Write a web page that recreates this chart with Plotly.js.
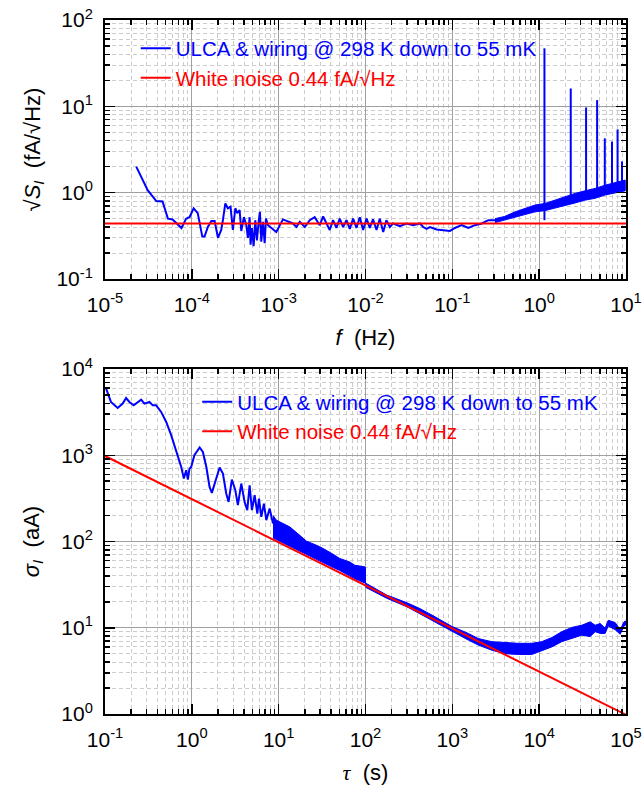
<!DOCTYPE html>
<html><head><meta charset="utf-8">
<script src="https://cdn.plot.ly/plotly-3.0.1.min.js"></script>
<style>body{margin:0;background:#fff}</style>
</head><body><div id="chart" style="width:644px;height:789px"></div>
<script>
// ---------- Top panel: spectral density ----------
const fLine = [2.29e-5,3.1e-5,3.9e-5,4.6e-5,5.3e-5,6.0e-5,7.6e-5,8.6e-5,9.4e-5,1.05e-4,1.17e-4,1.23e-4,1.32e-4,1.40e-4,1.53e-4,1.68e-4,1.83e-4,2.0e-4,2.18e-4,2.28e-4,2.43e-4,2.60e-4,2.79e-4,2.97e-4,3.17e-4,3.34e-4,3.55e-4,3.71e-4,3.98e-4,4.24e-4,4.42e-4,4.63e-4,4.75e-4,4.92e-4,5.15e-4,5.38e-4,5.62e-4,5.88e-4,6.08e-4,6.31e-4,6.59e-4,6.90e-4,7.14e-4,7.53e-4,8.24e-4,8.99e-4,9.4e-4,1.12e-3,1.28e-3,1.46e-3,1.60e-3,1.75e-3,2.0e-3,2.28e-3,2.60e-3,2.97e-3,3.25e-3,3.55e-3,3.87e-3,4.23e-3,4.62e-3,5.05e-3,5.52e-3,6.04e-3,6.59e-3,7.20e-3,7.87e-3,8.60e-3,9.38e-3,1.03e-2,1.12e-2,1.22e-2,1.34e-2,1.46e-2,1.60e-2,1.74e-2,1.91e-2,2.08e-2,2.49e-2,2.97e-2,3.54e-2,4.23e-2,4.62e-2,5.05e-2,5.52e-2,6.59e-2,7.5e-2,9.4e-2,0.107,0.128,0.153,0.182,0.218,0.26,0.31];
const sLine = [2.0,1.07,0.80,0.79,0.50,0.49,0.39,0.50,0.52,0.66,0.58,0.44,0.31,0.31,0.40,0.47,0.47,0.30,0.37,0.48,0.75,0.66,0.69,0.37,0.66,0.58,0.63,0.36,0.52,0.42,0.30,0.52,0.25,0.39,0.24,0.48,0.28,0.46,0.60,0.27,0.46,0.26,0.50,0.42,0.39,0.36,0.35,0.49,0.46,0.44,0.40,0.46,0.40,0.48,0.52,0.42,0.53,0.44,0.37,0.48,0.39,0.50,0.40,0.48,0.38,0.50,0.39,0.52,0.37,0.50,0.39,0.49,0.37,0.50,0.35,0.48,0.40,0.44,0.41,0.44,0.42,0.44,0.40,0.38,0.40,0.375,0.37,0.36,0.39,0.42,0.39,0.42,0.44,0.48,0.48];
const fBand = [0.31,0.40,0.53,0.69,0.90,1.17,1.52,1.99,2.59,3.38,4.41,5.74,7.5,9.8];
const sBandTop = [0.50,0.53,0.60,0.66,0.72,0.75,0.82,0.90,0.98,1.05,1.12,1.22,1.30,1.40];
const sBandBot = [0.45,0.48,0.52,0.56,0.60,0.62,0.66,0.71,0.76,0.82,0.86,0.94,1.00,1.05];
const fSpike = [1.15,2.31,3.47,4.65,5.7,6.9,8.0,9.0];
const sSpikeBase = [0.48,0.75,0.82,0.90,1.0,1.05,1.1,1.15];
const sSpikePeak = [47,16.1,9.7,11.8,4.26,3.9,5.4,2.3];
const fWhite = [1e-5,10];
const sWhite = [0.44,0.44];

// ---------- Bottom panel: Allan deviation ----------
const tauLine = [0.103,0.117,0.140,0.160,0.175,0.191,0.214,0.238,0.261,0.284,0.325,0.355,0.388,0.443,0.507,0.578,0.631,0.679,0.722,0.755,0.809,0.861,0.900,0.940,0.984,1.07,1.23,1.34,1.47,1.60,1.70,1.83,2.09,2.28,2.49,2.65,2.89,3.17,3.39,3.71,4.05,4.35,4.63,4.92,5.29,5.68,5.93,6.31,6.76,7.21,7.87,8.60];
const sigLine = [5930,4150,3530,3970,4610,4150,3790,4080,4420,3970,4150,3790,3790,3180,2430,1710,1310,1000,875,731,537,670,523,701,731,1000,1230,1090,731,430,366,470,720,614,360,288,523,393,264,470,288,231,449,231,344,211,315,193,275,177,241,162];
const tauBand1 = [8.6,9.4,11.2,13.4,17.5,20.9,27.2,32.5,42.3,50.6,65.9,75.3,98.2,100];
const sigBand1Top = [200,177,162,148,118,101,90.6,83,71.3,63.5,58,53.1,50.8,50];
const sigBand1Bot = [110,104,96,88,77,70,62,57,50,46,40,37,33,32.5];
const tauBand2 = [100,175,300,423,631,981,1525,1990,2840,4050,5760,8220,10700,14000,18200,23800,31000,38600,44100,50400,57500,62400,75000,85800,94800,100000];
const sigBand2Top = [33,24,19.5,16.7,13.4,10.4,8.6,7.5,6.9,6.7,6.6,6.6,6.9,7.7,9.0,10.1,10.7,11.7,10.7,11.2,9.9,12.2,11.5,9.5,11.7,12.0];
const sigBand2Bot = [29.5,22,17.5,14.7,11.7,9.2,7.2,6.3,5.5,5.0,4.9,4.9,5.4,6.0,6.9,7.5,8.2,7.9,9.0,8.6,8.6,10.5,9.5,8.4,10.5,10.8];
const tauWhite = [0.1,1e5];
const sigWhite = [980,0.98];

// ---------- Tick labels ----------
const fTickVals = [1e-5,1e-4,1e-3,1e-2,1e-1,1,10];
const fTickText = ['10<sup>-5</sup>','10<sup>-4</sup>','10<sup>-3</sup>','10<sup>-2</sup>','10<sup>-1</sup>','10<sup>0</sup>','10<sup>1</sup>'];
const sTickVals = [0.1,1,10,100];
const sTickText = ['10<sup>-1</sup>','10<sup>0</sup>','10<sup>1</sup>','10<sup>2</sup>'];
const tauTickVals = [0.1,1,10,100,1e3,1e4,1e5];
const tauTickText = ['10<sup>-1</sup>','10<sup>0</sup>','10<sup>1</sup>','10<sup>2</sup>','10<sup>3</sup>','10<sup>4</sup>','10<sup>5</sup>'];
const sigTickVals = [1,10,100,1e3,1e4];
const sigTickText = ['10<sup>0</sup>','10<sup>1</sup>','10<sup>2</sup>','10<sup>3</sup>','10<sup>4</sup>'];

const legBlue = '<span style="color:#0000ff">ULCA &amp; wiring @ 298 K down to 55 mK</span>';
const legRed = '<span style="color:#ff0000">White noise 0.44 fA/√Hz</span>';

const FONT = 'Liberation Sans, Arial, sans-serif';
const BLUE = '#0000ff', RED = '#ff0000';

function poly(x, top, bot) {
  return { x: x.concat(x.slice().reverse()), y: top.concat(bot.slice().reverse()) };
}
function spikes(f, base, peak) {
  const x = [], y = [];
  for (let i = 0; i < f.length; i++) { x.push(f[i], f[i], null); y.push(base[i], peak[i], null); }
  return { x, y };
}
function minors(lo, hi) {
  const v = [];
  for (let e = lo; e < hi; e++) for (let m = 2; m <= 9; m++) v.push(m * Math.pow(10, e));
  return v;
}
function axis(tv, tt, lo, hi, extra) {
  return Object.assign({
    type: 'log', range: [lo, hi], showline: true, linewidth: 2, linecolor: 'black', mirror: 'allticks',
    ticks: 'inside', ticklen: 10, tickwidth: 1.5, tickcolor: 'black',
    showgrid: true, gridcolor: '#a0a0a0', gridwidth: 1, zeroline: false,
    tickmode: 'array', tickvals: tv, ticktext: tt,
    tickfont: { family: FONT, size: 21, color: 'black' }, ticklabelstandoff: 6,
    minor: { tickvals: minors(lo, hi), ticks: 'inside', ticklen: 5, tickwidth: 1.5, tickcolor: 'black',
             showgrid: true, gridcolor: '#cccccc', griddash: '4px,3px', gridwidth: 1 }
  }, extra);
}

const bandTop = poly(fBand, sBandTop, sBandBot);
const sp = spikes(fSpike, sSpikeBase, sSpikePeak);
const band1 = poly(tauBand1, sigBand1Top, sigBand1Bot);
const band2 = poly(tauBand2, sigBand2Top, sigBand2Bot);

const data = [
  { x: fLine, y: sLine, type: 'scatter', mode: 'lines', line: { color: BLUE, width: 2 }, name: legBlue, legend: 'legend', legendrank: 1, xaxis: 'x', yaxis: 'y' },
  { x: bandTop.x, y: bandTop.y, type: 'scatter', mode: 'lines', fill: 'toself', fillcolor: BLUE, line: { color: BLUE, width: 1 }, showlegend: false, xaxis: 'x', yaxis: 'y' },
  { x: sp.x, y: sp.y, type: 'scatter', mode: 'lines', line: { color: BLUE, width: 2 }, connectgaps: false, showlegend: false, xaxis: 'x', yaxis: 'y' },
  { x: fWhite, y: sWhite, type: 'scatter', mode: 'lines', line: { color: RED, width: 2 }, name: legRed, legend: 'legend', legendrank: 2, xaxis: 'x', yaxis: 'y' },

  { x: tauLine, y: sigLine, type: 'scatter', mode: 'lines', line: { color: BLUE, width: 2 }, name: legBlue, legend: 'legend2', legendrank: 1, xaxis: 'x2', yaxis: 'y2' },
  { x: band1.x, y: band1.y, type: 'scatter', mode: 'lines', fill: 'toself', fillcolor: BLUE, line: { color: BLUE, width: 1 }, showlegend: false, xaxis: 'x2', yaxis: 'y2' },
  { x: band2.x, y: band2.y, type: 'scatter', mode: 'lines', fill: 'toself', fillcolor: BLUE, line: { color: BLUE, width: 1 }, showlegend: false, xaxis: 'x2', yaxis: 'y2' },
  { x: tauWhite, y: sigWhite, type: 'scatter', mode: 'lines', line: { color: RED, width: 2 }, name: legRed, legend: 'legend2', legendrank: 2, xaxis: 'x2', yaxis: 'y2' }
];

const titleFont = { family: FONT, size: 22, color: 'black' };
const layout = {
  width: 644, height: 789,
  margin: { l: 105, r: 18, t: 20, b: 75 },
  paper_bgcolor: 'white', plot_bgcolor: 'white',
  font: { family: FONT, color: 'black' },
  showlegend: true,
  xaxis: axis(fTickVals, fTickText, -5, 1, { anchor: 'y', domain: [0, 1],
    title: { text: '<i>f</i>  (Hz)', font: titleFont, standoff: 14 } }),
  yaxis: axis(sTickVals, sTickText, -1, 2, { anchor: 'x', domain: [0.6268, 1],
    title: { text: '√<i>S</i><sub><i>I</i></sub>  (fA/√Hz)', font: titleFont, standoff: 10 } }),
  xaxis2: axis(tauTickVals, tauTickText, -1, 5, { anchor: 'y2', domain: [0, 1],
    title: { text: '<span style="font-family:Liberation Serif"><i>τ</i></span>  (s)', font: titleFont, standoff: 14 } }),
  yaxis2: axis(sigTickVals, sigTickText, 0, 4, { anchor: 'x2', domain: [0, 0.4971],
    title: { text: '<i>σ</i><sub><i>I</i></sub>  (aA)', font: titleFont, standoff: 16 } }),
  legend: { x: 0.059, y: 0.988, xanchor: 'left', yanchor: 'top', bgcolor: 'rgba(0,0,0,0)', borderwidth: 0,
    font: { family: FONT, size: 20.5 } },
  legend2: { x: 0.177, y: 0.4786, xanchor: 'left', yanchor: 'top', bgcolor: 'rgba(0,0,0,0)', borderwidth: 0,
    font: { family: FONT, size: 20.5 } }
};

Plotly.newPlot('chart', data, layout, { displayModeBar: false, staticPlot: true });
</script>
</body></html>
